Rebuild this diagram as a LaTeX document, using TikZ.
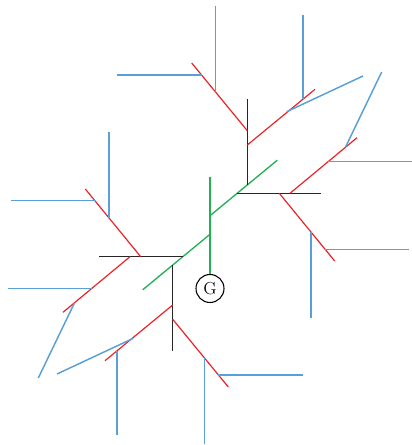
\documentclass[tikz,border=0pt]{standalone}
\definecolor{ramoblu}{RGB}{88,160,215}
\definecolor{ramorosso}{RGB}{235,35,40}
\definecolor{ramoverde}{RGB}{35,175,85}
\tikzset{
  blu/.style={ramoblu,line width=1.1pt},
  rosso/.style={ramorosso,line width=0.9pt},
  nero/.style={black!85,line width=1pt},
  verde/.style={ramoverde,line width=1pt}
}
\begin{document}
\begin{tikzpicture}[x=0.75pt,y=0.75pt]
        \useasboundingbox (-210,-220) rectangle (201,225);
        % radice
        \node[circle,draw,line width=0.8pt,inner sep=0pt,minimum size=21pt,
              font=\fontsize{13pt}{15pt}\selectfont] (G) at (0,-63.5) {G};
        \draw[verde] (0,48.3) -- (G.north);
        % due meta' simmetriche
        \foreach \r in {0,180} {
        \begin{scope}[rotate=\r]
        % tronco diagonale
        \draw[verde] (0,9.3) -- (67.3,64.8);
        % rami neri
        \draw[nero] (37.3,40.4) -- (37.3,126);
        \draw[nero] (27.4,31.7) -- (110.7,31.7);
        % rami rossi
        \draw[rosso] (-18.3,162) -- (37.3,94.3);
        \draw[rosso] (37.3,80) -- (105,135.7);
        \draw[rosso] (80,31.7) -- (147,87.3);
        \draw[rosso] (69.3,31.7) -- (124.7,-36);
        % foglie blu
        \draw[blu] (5.5,133.3) -- (5.5,219);
        \draw[blu] (-8.3,150) -- (-92.7,150);
        \draw[blu] (93.1,126) -- (93.1,209.7);
        \draw[blu] (76.7,113.3) -- (153,149);
        \draw[blu] (135.7,78.3) -- (171.7,153);
        \draw[blu] (118.3,63.3) -- (202,63.3);
        \draw[blu] (101,-7.3) -- (101,-92.7);
        \draw[blu] (115,-24.3) -- (199,-24.3);
        \end{scope}
        }
\end{tikzpicture}
\end{document}
